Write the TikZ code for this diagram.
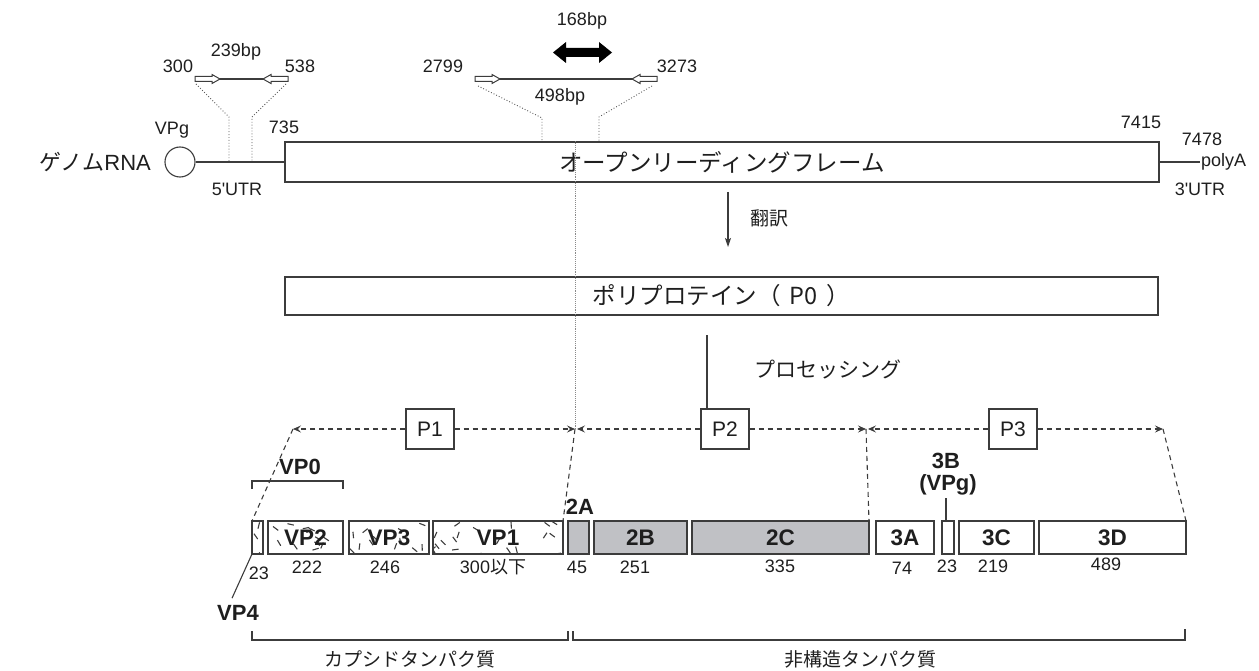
\documentclass[tikz,border=0pt]{standalone}
\usepackage{fontspec}
\setmainfont{Liberation Sans}
\newfontfamily\jpfont{Noto Sans CJK JP}
\usetikzlibrary{arrows.meta}
\definecolor{linec}{RGB}{60,60,60}
\definecolor{txtc}{RGB}{30,30,30}
\definecolor{segfill}{RGB}{192,193,197}
\newcommand\primerarrow[3]{%
  \filldraw[fill=white, draw=linec, line width=1] (#1,#2) -- ++({-8*(#3)},-4.5) -- ++(0,2) -- ++({-17*(#3)},0) -- ++(0,5) -- ++({17*(#3)},0) -- ++(0,2) -- cycle;}
\newcommand\hatchfill[5]{%
  \begin{scope}
  \clip (#1,#3) rectangle (#2,#4);
  \foreach \k in {1,...,#5}{
    \pgfmathsetmacro\hx{#1+rnd*(#2-#1)}
    \pgfmathsetmacro\hy{#3+rnd*(#4-#3)}
    \pgfmathsetmacro\ha{rnd*180}
    \draw[hatchline] (\hx,\hy) -- ++(\ha:6.5);
  }
  \end{scope}}
\begin{document}
\begin{tikzpicture}[x=1pt,y=-1pt,
  every node/.style={text=txtc},
  num/.style={font=\fontsize{18}{20}\selectfont, inner sep=0},
  jp/.style={font=\fontsize{22}{24}\selectfont\jpfont, inner sep=0},
  jps/.style={font=\fontsize{19}{21}\selectfont\jpfont, inner sep=0},
  bld/.style={font=\fontsize{22}{24}\selectfont\bfseries, inner sep=0},
  seg/.style={draw=linec, line width=1.2, minimum height=33, inner sep=0, outer sep=0, font=\fontsize{22.5}{24}\selectfont\bfseries},
  pbox/.style={draw=linec, line width=1.1, minimum width=48, minimum height=40, inner sep=0, font=\fontsize{21}{23}\selectfont},
  bigbox/.style={draw=linec, line width=1.2, inner sep=0, font=\fontsize{23.5}{25}\selectfont\jpfont},
  ln/.style={draw=linec, line width=1.1},
  dots/.style={draw=linec!85, line width=0.9, dotted},
  vdots/.style={draw=linec!60, line width=0.9, densely dotted},
  dsh/.style={draw=linec, line width=1.1, dash pattern=on 5 off 4},
  tipa/.style={-{Stealth[length=8,width=7,inset=3]}},
  hatchline/.style={draw=linec, line width=1.1},
]
\useasboundingbox (0,0) rectangle (1259,671);

% ---- genome RNA ----
\node[jp] (genome) at (95,162) {ゲノム{\rmfamily RNA}};
\node[draw=linec, line width=1.1, circle, minimum size=30, inner sep=0] (vpgc) at (180,162) {};
\node[num] (vpgl) at (172,130) {VPg};
\node[bigbox, minimum width=874, minimum height=40] (orf) at (722,162) {オープンリーディングフレーム};
\coordinate (polyend) at (1200,162);
\draw[ln] (vpgc.east) -- (orf.west);
\draw[ln] (orf.east) -- (polyend);
\node[num, anchor=west] (polyA) at ([xshift=1]polyend) {polyA};
\node[num] (l5utr) at (237,189) {5\textquotesingle UTR};
\node[num] (l3utr) at (1200,189) {3\textquotesingle UTR};
\node[num] (l735) at (284,127) {735};
\node[num] (l7415) at (1141,122) {7415};
\node[num] (l7478) at (1202,139) {7478};

% ---- primer set 1 ----
\coordinate (p1a) at (195,79);
\coordinate (p1b) at (287,79);
\coordinate (d1a) at (196,84);
\coordinate (d1b) at (286,84);
\coordinate (t1a) at (229,117);
\coordinate (t1b) at (252,117);
\draw[dots] (d1a) -- (t1a) -- (t1a |- orf.west);
\draw[dots] (d1b) -- (t1b) -- (t1b |- orf.west);
\draw[ln] (p1a) -- (p1b);
\primerarrow{220}{79}{1}
\primerarrow{263}{79}{-1}
\node[num] (n300) at (178,66) {300};
\node[num] (n239) at (236,52) {239bp};
\node[num] (n538) at (300,66) {538};

% ---- primer set 2 ----
\coordinate (p2a) at (477,79);
\coordinate (p2b) at (656,79);
\coordinate (d2a) at (478,86);
\coordinate (d2b) at (652,86);
\coordinate (t2a) at (542,118);
\coordinate (t2b) at (599,117);
\draw[dots] (d2a) -- (t2a) -- (t2a |- orf.north);
\draw[dots] (d2b) -- (t2b) -- (t2b |- orf.north);
\draw[ln] (p2a) -- (p2b);
\primerarrow{500}{79}{1}
\primerarrow{632}{79}{-1}
\node[num] (n2799) at (443,66) {2799};
\node[num] (n3273) at (677,66) {3273};
\node[num] (n498) at (560,97) {498bp};
\node[num] (n168) at (582,21) {168bp};
\fill[black] (553,52.5) -- (566,42) -- (566,48) -- (599,48) -- (599,42) -- (612,52.5) -- (599,63) -- (599,57) -- (566,57) -- (566,63) -- cycle;

% ---- translation ----
\coordinate (tr1) at (728,192);
\coordinate (tr2) at (728,247);
\draw[ln, -{Stealth[length=9,width=6,inset=2]}] (tr1) -- (tr2);
\node[jps] (honyaku) at (769,218) {翻訳};
\node[bigbox, minimum width=873, minimum height=38] (poly) at (721.5,296) {ポリプロテイン（\hspace{9pt}P0\hspace{9pt}）};

% ---- processing ----
\node[jp, font=\fontsize{21}{23}\selectfont\jpfont] (proc) at (828,369) {プロセッシング};
\node[pbox] (p1) at (430,429) {P1};
\node[pbox] (p2) at (725,429) {P2};
\node[pbox] (p3) at (1013,429) {P3};
\coordinate (procTop) at (707,335);
\draw[ln] (procTop) -- (procTop |- p2.north);

\coordinate (pl) at (293,429);
\coordinate (junc12) at (575,429);
\coordinate (junc12b) at (577,429);
\coordinate (junc23) at (866,429);
\coordinate (junc23b) at (868,429);
\coordinate (pr) at (1163,429);
\draw[vdots] (orf.north -| junc12) -- (junc12);
\draw[dsh, tipa] (p1.west) -- (pl);
\draw[dsh, tipa] (p1.east) -- (junc12);
\draw[dsh, tipa] (p2.west) -- (junc12b);
\draw[dsh, tipa] (p2.east) -- (junc23);
\draw[dsh, tipa] (p3.west) -- (junc23b);
\draw[dsh, tipa] (p3.east) -- (pr);

% ---- hatching of capsid segments ----
\pgfmathsetseed{11}
\hatchfill{252}{263}{521}{554}{3}
\hatchfill{268}{343}{521}{554}{12}
\hatchfill{349}{429}{521}{554}{12}
\hatchfill{433}{563}{521}{554}{20}

% ---- segments ----
\node[seg, minimum width=11] (vp4) at (257.5,537.5) {};
\node[seg, minimum width=75] (vp2) at (305.5,537.5) {VP2};
\node[seg, minimum width=80] (vp3) at (389,537.5) {VP3};
\node[seg, minimum width=130] (vp1) at (498,537.5) {VP1};
\node[seg, fill=segfill, minimum width=21] (a2) at (578.5,537.5) {};
\node[seg, fill=segfill, minimum width=93] (b2) at (640.5,537.5) {2B};
\node[seg, fill=segfill, minimum width=177] (c2) at (780.5,537.5) {2C};
\node[seg, minimum width=58] (a3) at (905,537.5) {3A};
\node[seg, minimum width=12] (b3) at (948,537.5) {};
\node[seg, minimum width=75] (c3) at (996.5,537.5) {3C};
\node[seg, minimum width=147] (d3) at (1112.5,537.5) {3D};

\draw[dsh] (pl) -- (vp4.north west);
\draw[dsh] (junc12) -- (vp1.north east);
\draw[dsh] (junc23) -- (c2.north east);
\draw[dsh] (pr) -- (d3.north east);

% ---- sizes ----
\node[num] (s23a) at (259,573) {23};
\node[num] (s222) at (307,567) {222};
\node[num] (s246) at (385,567) {246};
\node[num] (s300) at (493,567) {300{\jpfont 以下}};
\node[num] (s45) at (577,567) {45};
\node[num] (s251) at (635,567) {251};
\node[num] (s335) at (780,566) {335};
\node[num] (s74) at (902,568) {74};
\node[num] (s23b) at (947,566) {23};
\node[num] (s219) at (993,566) {219};
\node[num] (s489) at (1106,564) {489};

% ---- bold labels ----
\node[bld] (vp0l) at (300,467) {VP0};
\draw[ln] (vp4.west |- 0,489) -- (vp4.west |- 0,481) -- (vp2.east |- 0,481) -- (vp2.east |- 0,489);
\node[bld] (vp4l) at (238,613) {VP4};
\draw[ln] ([shift={(-6,-7)}]vp4l.north) -- (vp4.south west);
\node[bld] (a2l) at (580,507) {2A};
\node[bld] (b3l) at (946,461) {3B};
\node[bld] (b3v) at (948,485) {(VPg)};
\coordinate (b3top) at (946,498);
\draw[ln] (b3top) -- (b3top |- b3.north);

% ---- bottom brackets ----
\draw[ln] (252,631) -- (252,640) -- (568,640) -- (568,631);
\draw[ln] (573,631) -- (573,640) -- (1185,640) -- (1185,629);
\node[jps] (capsid) at (410,659) {カプシドタンパク質};
\node[jps] (nonstr) at (860,659) {非構造タンパク質};
\end{tikzpicture}
\end{document}
